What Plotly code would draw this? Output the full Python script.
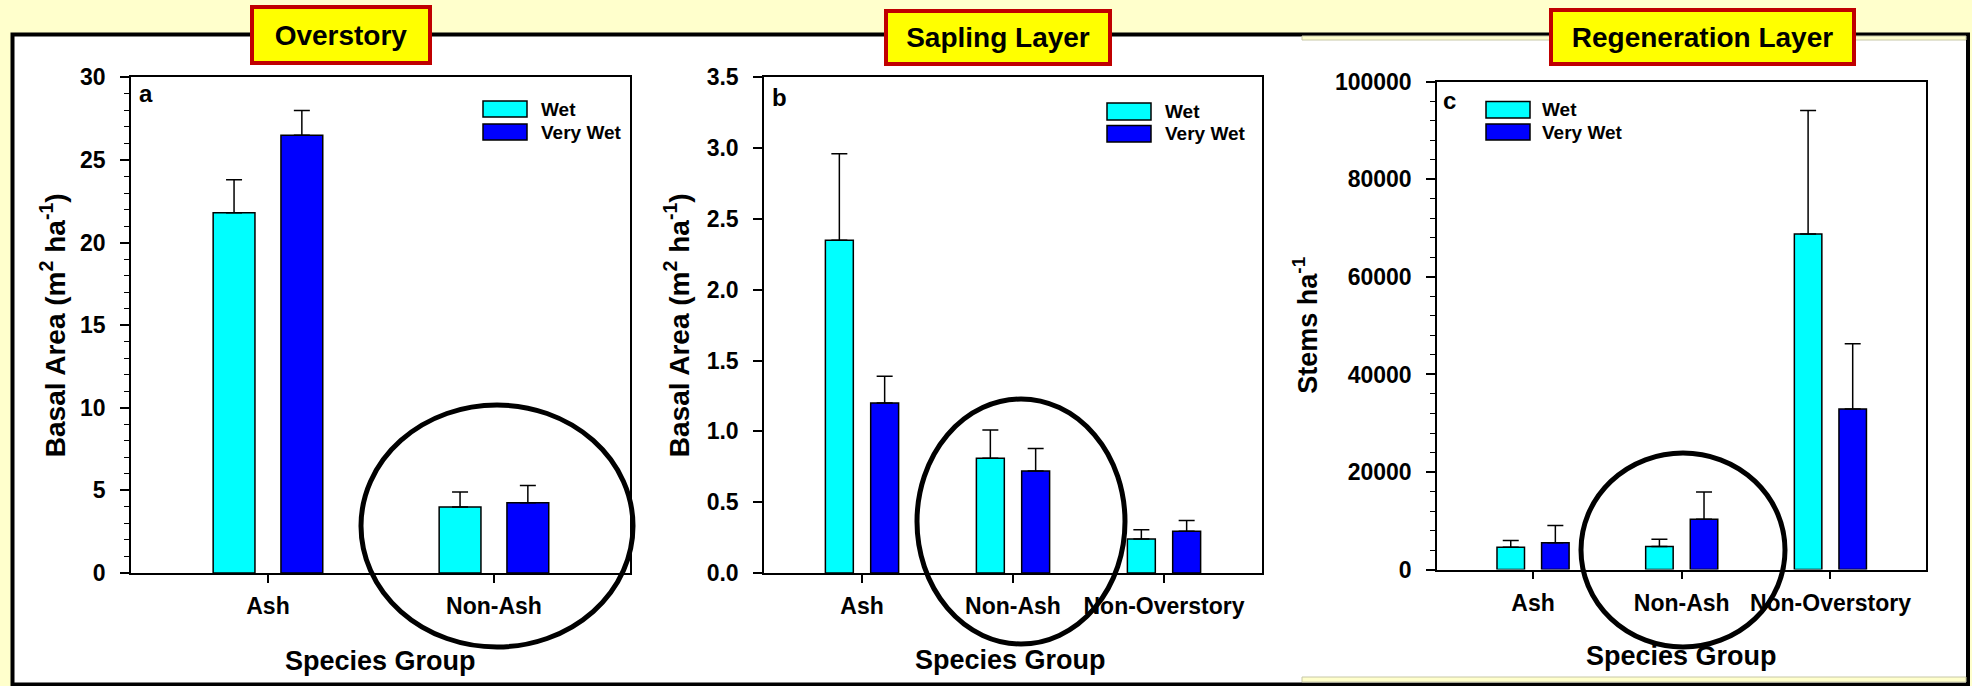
import plotly.graph_objects as go

W, H = 1972, 686
FONT = "Arial, Liberation Sans, sans-serif"

# ---------------- data ----------------
groups_a = ["Ash", "Non-Ash"]
groups_bc = ["Ash", "Non-Ash", "Non-Overstory"]
series_names = ["Wet", "Very Wet"]

wet_a = [21.8, 4.0]
wet_a_err = [2.0, 0.9]
verywet_a = [26.5, 4.25]
verywet_a_err = [1.5, 1.05]

wet_b = [2.35, 0.81, 0.24]
wet_b_err = [0.61, 0.20, 0.065]
verywet_b = [1.20, 0.72, 0.295]
verywet_b_err = [0.19, 0.16, 0.075]

wet_c = [4600, 4750, 68800]
wet_c_err = [1350, 1450, 25300]
verywet_c = [5500, 10300, 32900]
verywet_c_err = [3550, 5600, 13400]

panel_titles = ["Overstory", "Sapling Layer", "Regeneration Layer"]
panel_letters = ["a", "b", "c"]
y_titles = ["Basal Area (m<sup>2</sup> ha<sup>-1</sup>)",
            "Basal Area (m<sup>2</sup> ha<sup>-1</sup>)",
            "Stems ha<sup>-1</sup>"]
x_title = "Species Group"

# ---------------- style ----------------
WET_COLOR = "#00FFFF"
VERYWET_COLOR = "#0000FF"
BG = "#FFFFCC"

def fx(x):
    return x / W

def fy(y):
    return 1 - y / H

panels = [
    dict(groups=groups_a, wet=wet_a, wet_err=wet_a_err, vw=verywet_a, vw_err=verywet_a_err,
         L=131, R=630, T=77.4, B=573, xr=[-0.606, 1.602], yr=[0, 30], dtick=5, minor=1, fmt=None,
         ytx=53, ytsize=28, xtx=380, xty=661, lx=483, lwy=(101, 117), lvy=(124, 140), ltx=539,
         letter=(146, 93), title=(341, 35, 182, 60), circle=(361, 405, 633, 647)),
    dict(groups=groups_bc, wet=wet_b, wet_err=wet_b_err, vw=verywet_b, vw_err=verywet_b_err,
         L=764, R=1262, T=77.4, B=573, xr=[-0.649, 2.649], yr=[0, 3.5], dtick=0.5, minor=None, fmt=".1f",
         ytx=677, ytsize=28, xtx=1010, xty=660, lx=1107, lwy=(103, 120), lvy=(125.5, 142), ltx=1163,
         letter=(779, 98), title=(998, 37, 228, 57), circle=(917, 399, 1125, 644)),
    dict(groups=groups_bc, wet=wet_c, wet_err=wet_c_err, vw=verywet_c, vw_err=verywet_c_err,
         L=1437, R=1926, T=81.8, B=569.6, xr=[-0.646, 2.643], yr=[0, 100000], dtick=20000, minor=4000, fmt="d",
         ytx=1305, ytsize=27, xtx=1681, xty=656, lx=1486, lwy=(101.5, 118), lvy=(124, 140), ltx=1540,
         letter=(1449, 101), title=(1702, 37, 307, 58), circle=(1581, 453, 1785, 647)),
]

BAR_W = 0.185
fig = go.Figure()
shapes = []
annotations = []

# outer frame
shapes.append(dict(type="rect", xref="paper", yref="paper", layer="below",
                   x0=fx(12.5), x1=fx(1968), y0=fy(684.5), y1=fy(34.5),
                   fillcolor="white", line=dict(color="black", width=4)))
# light yellow frame strips of the third picture
shapes.append(dict(type="rect", xref="paper", yref="paper", layer="below",
                   x0=fx(1302), x1=fx(1966), y0=fy(40), y1=fy(36),
                   fillcolor=BG, line=dict(color="#C8C8A8", width=1)))
shapes.append(dict(type="rect", xref="paper", yref="paper", layer="below",
                   x0=fx(1302), x1=fx(1966), y0=fy(682), y1=fy(677),
                   fillcolor=BG, line=dict(color="#C8C8A8", width=1)))

for i, p in enumerate(panels):
    sfx = "" if i == 0 else str(i + 1)
    xa, ya = "x" + sfx, "y" + sfx
    n = len(p["groups"])
    for name, vals, err, color, off in [
        (series_names[0], p["wet"], p["wet_err"], WET_COLOR, -0.15 - BAR_W / 2),
        (series_names[1], p["vw"], p["vw_err"], VERYWET_COLOR, 0.15 - BAR_W / 2),
    ]:
        fig.add_trace(go.Bar(
            x=p["groups"], y=vals, name=name, xaxis=xa, yaxis=ya,
            width=BAR_W, offset=off, showlegend=False,
            marker=dict(color=color, line=dict(color="black", width=1.5)),
            error_y=dict(type="data", symmetric=False, array=err, arrayminus=[0] * n,
                         color="black", thickness=1.5, width=8),
        ))

    tickfont = dict(family=FONT, size=23, color="black", weight="bold")
    xaxis = dict(domain=[fx(p["L"]), fx(p["R"])], range=p["xr"], anchor=ya, type="category",
                 showline=True, linecolor="black", linewidth=1.5, mirror=True,
                 ticks="outside", ticklen=8, tickwidth=1.5, tickcolor="black",
                 tickfont=tickfont, ticklabelstandoff=4, automargin=False,
                 showgrid=False, zeroline=False, fixedrange=True)
    yaxis = dict(domain=[fy(p["B"]), fy(p["T"])], range=p["yr"], anchor=xa,
                 showline=True, linecolor="black", linewidth=1.5, mirror=True,
                 ticks="outside", ticklen=9, tickwidth=1.5, tickcolor="black",
                 dtick=p["dtick"], tick0=0, tickfont=tickfont, ticklabelstandoff=10,
                 automargin=False, showgrid=False, zeroline=False, fixedrange=True)
    if p["fmt"]:
        yaxis["tickformat"] = p["fmt"]
    if p["minor"]:
        yaxis["minor"] = dict(dtick=p["minor"], tick0=0, ticks="outside", ticklen=5,
                              tickwidth=1.2, tickcolor="black", showgrid=False)
    fig.update_layout(**{"xaxis" + sfx: xaxis, "yaxis" + sfx: yaxis})

    # axis titles
    annotations.append(dict(text=y_titles[i], xref="paper", yref="paper",
                            x=fx(p["ytx"]), y=fy((p["T"] + p["B"]) / 2), textangle=-90,
                            xanchor="center", yanchor="middle", showarrow=False,
                            font=dict(family=FONT, size=p["ytsize"], color="black", weight="bold")))
    annotations.append(dict(text=x_title, xref="paper", yref="paper",
                            x=fx(p["xtx"]), y=fy(p["xty"]),
                            xanchor="center", yanchor="middle", showarrow=False,
                            font=dict(family=FONT, size=27, color="black", weight="bold")))
    # panel letter
    annotations.append(dict(text=panel_letters[i], xref="paper", yref="paper",
                            x=fx(p["letter"][0]), y=fy(p["letter"][1]),
                            xanchor="center", yanchor="middle", showarrow=False,
                            font=dict(family=FONT, size=24, color="black", weight="bold")))
    # legend
    for (y0, y1), color, name in [(p["lwy"], WET_COLOR, series_names[0]),
                                  (p["lvy"], VERYWET_COLOR, series_names[1])]:
        shapes.append(dict(type="rect", xref="paper", yref="paper",
                           x0=fx(p["lx"]), x1=fx(p["lx"] + 44), y0=fy(y1), y1=fy(y0),
                           fillcolor=color, line=dict(color="black", width=1.5)))
        annotations.append(dict(text=name, xref="paper", yref="paper",
                                x=fx(p["ltx"]), y=fy((y0 + y1) / 2),
                                xanchor="left", yanchor="middle", showarrow=False,
                                font=dict(family=FONT, size=19, color="black", weight="bold")))
    # emphasis ellipse
    cx0, cy0, cx1, cy1 = p["circle"]
    shapes.append(dict(type="circle", xref="paper", yref="paper",
                       x0=fx(cx0), x1=fx(cx1), y0=fy(cy1), y1=fy(cy0),
                       line=dict(color="black", width=5)))
    # title box
    tx, ty, tw, th = p["title"]
    annotations.append(dict(text=panel_titles[i], xref="paper", yref="paper",
                            x=fx(tx), y=fy(ty), xanchor="center", yanchor="middle",
                            showarrow=False, width=tw - 8, height=th - 8,
                            bgcolor="#FFFF00", bordercolor="#C00000", borderwidth=4, borderpad=0,
                            font=dict(family=FONT, size=28, color="black", weight="bold")))

fig.update_layout(
    template="none",
    width=W, height=H, margin=dict(l=0, r=0, t=0, b=0, pad=0, autoexpand=False),
    paper_bgcolor=BG, plot_bgcolor="white",
    barmode="overlay", showlegend=False,
    shapes=shapes, annotations=annotations,
    font=dict(family=FONT, color="black"),
)

fig.write_html(
    "out.html",
    config={"displayModeBar": False},
    post_script="document.body.style.margin='0';document.body.style.overflow='hidden';"
                "document.body.style.background='" + BG + "';",
)
